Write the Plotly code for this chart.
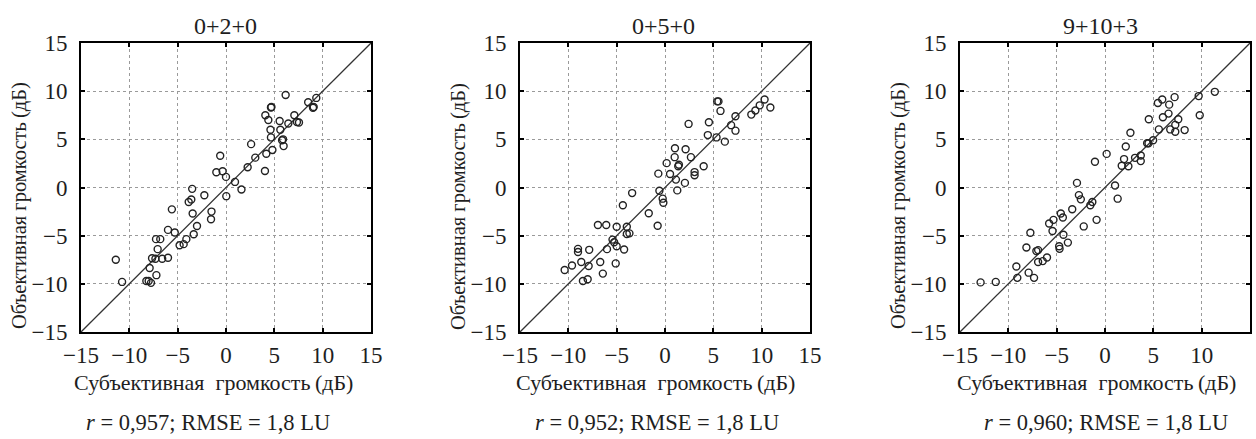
import plotly.graph_objects as go

TITLES = ["0+2+0", "0+5+0", "9+10+3"]
STATS = ["<i>r</i> = 0,957; RMSE = 1,8 LU",
         "<i>r</i> = 0,952; RMSE = 1,8 LU",
         "<i>r</i> = 0,960; RMSE = 1,8 LU"]
X_TITLE = "Субъективная\u00a0 громкость\u2009(дБ)"
Y_TITLE = "Объективная громкость\u2009(дБ)"
TICKS = [-15, -10, -5, 0, 5, 10, 15]
AXIS_RANGE = [-15, 15]

P1_X = [-11.4, -10.75, -8.24, -8.0, -7.76, -7.9, -7.2, -7.65, -7.24, -6.8, -7.07, -7.3, -6.6, -6.0,
        -6.0, -5.3, -5.6, -4.8, -4.38, -4.1, -3.86, -3.59, -3.5, -3.45, -3.34, -3.0, -2.24, -1.5,
        -1.55, -1.0, -0.6, -0.35, 0.0, 0.03, 0.93, 1.6, 2.24, 2.6, 3.03, 4.03, 4.17, 4.07, 4.38,
        4.65, 4.7, 4.6, 4.65, 4.8, 5.55, 5.62, 5.8, 5.9, 5.96, 6.17, 6.45, 7.07, 7.34, 7.55, 8.5,
        9.0, 9.07, 9.34]
P1_Y = [-7.5, -9.8, -9.7, -9.7, -9.9, -8.35, -9.1, -7.35, -5.36, -5.36, -6.4, -7.4, -7.4, -7.3,
        -4.4, -4.67, -2.27, -6.0, -5.88, -5.36, -1.5, -1.24, -0.14, -2.7, -4.85, -4.0, -0.8, -2.5,
        -3.3, 1.58, 3.3, 1.68, 1.1, -0.9, 0.58, -0.2, 2.1, 4.5, 3.1, 1.72, 3.5, 7.5, 7.0, 8.3,
        8.35, 6.0, 5.2, 3.9, 6.9, 6.0, 4.9, 5.0, 4.3, 9.6, 6.65, 7.5, 6.8, 6.75, 8.85, 8.27, 8.35,
        9.3]

P2_X = [-10.38, -9.62, -9.0, -9.0, -8.66, -8.49, -8.0, -7.9, -7.84, -6.94, -6.7, -6.43, -6.08,
        -6.0, -5.43, -5.26, -5.0, -5.0, -5.1, -4.36, -4.23, -3.95, -3.95, -3.68, -3.4, -1.68,
        -0.76, -0.69, -0.58, -0.24, -0.17, 0.17, 0.52, 1.03, 1.0, 1.13, 1.27, 1.37, 1.44, 2.06,
        2.13, 2.44, 2.68, 3.06, 3.06, 4.0, 4.43, 4.54, 5.33, 5.4, 5.53, 5.74, 6.19, 6.84, 7.29,
        7.29, 8.93, 9.35, 9.8, 10.3, 10.9]
P2_Y = [-8.56, -8.1, -6.37, -6.7, -7.74, -9.7, -9.52, -8.15, -6.47, -3.9, -7.74, -8.94, -3.9,
        -6.4, -5.41, -5.68, -4.08, -6.1, -7.88, -1.85, -6.44, -4.08, -4.83, -4.76, -0.58, -2.67,
        -3.97, 1.44, -0.34, -1.16, -1.58, 2.53, 1.4, 4.08, 3.15, 0.82, -0.3, 2.2, 2.36, 0.48,
        3.97, 6.6, 3.15, 1.6, 1.27, 2.2, 5.44, 6.78, 5.2, 8.94, 8.94, 7.95, 4.76, 6.47, 7.4, 5.9,
        7.57, 8.0, 8.53, 9.14, 8.3]

P3_X = [-12.87, -11.3, -9.17, -9.07, -8.13, -7.9, -7.72, -7.34, -7.1, -6.92, -6.92, -6.44, -6.0,
        -5.78, -5.43, -5.33, -4.74, -4.7, -4.57, -4.36, -4.3, -3.84, -3.39, -2.9, -2.7, -2.5,
        -2.2, -1.52, -1.31, -1.04, -0.87, 0.17, 1.04, 1.31, 1.73, 1.97, 2.15, 2.42, 2.63, 3.11,
        3.7, 3.7, 4.36, 4.5, 4.53, 4.98, 5.47, 5.57, 5.92, 5.99, 6.57, 6.64, 6.75, 7.2, 7.27,
        7.27, 7.58, 8.24, 9.69, 9.8, 11.36]
P3_Y = [-9.85, -9.8, -8.2, -9.38, -6.23, -8.84, -4.7, -9.38, -6.6, -6.5, -7.74, -7.64, -7.26,
        -3.74, -4.52, -3.36, -6.1, -6.37, -2.7, -3.12, -4.9, -5.72, -2.26, 0.48, -0.79, -1.23,
        -4.04, -1.85, -1.51, 2.67, -3.36, 3.49, 0.2, -1.16, 2.26, 2.95, 4.25, 2.2, 5.68, 3.08,
        3.32, 2.74, 4.59, 4.59, 7.09, 4.9, 8.77, 6.03, 9.14, 7.29, 7.67, 8.6, 6.03, 9.38, 6.5,
        5.78, 7.09, 5.96, 9.49, 7.5, 9.93]

PANELS = [(P1_X, P1_Y), (P2_X, P2_Y), (P3_X, P3_Y)]

W, H = 1256, 439
X_DOMAINS = [[81 / W, 371 / W], [520 / W, 810 / W], [960 / W, 1250 / W]]
Y_DOMAIN = [1 - 332 / H, 1 - 43 / H]
YTITLE_X = [19, 458, 898]
TITLE_CX = [226, 663, 1100]
XTITLE_CX = [213, 655, 1096]
STATS_CX = [208, 657, 1106]

FONT = "Liberation Serif"
TXT = "#1e1e1e"

fig = go.Figure()
annotations = []
layout_axes = {}
for i, (xs, ys) in enumerate(PANELS):
    n = "" if i == 0 else str(i + 1)
    xa, ya = "x" + n, "y" + n
    fig.add_trace(go.Scatter(x=AXIS_RANGE, y=AXIS_RANGE, mode="lines",
                             line=dict(color="#333333", width=1.3),
                             xaxis=xa, yaxis=ya, showlegend=False, hoverinfo="skip"))
    fig.add_trace(go.Scatter(x=xs, y=ys, mode="markers",
                             marker=dict(symbol="circle-open", size=7, color="#222222",
                                         line=dict(width=1.4, color="#222222")),
                             xaxis=xa, yaxis=ya, showlegend=False))
    common = dict(range=AXIS_RANGE, tickvals=TICKS, showgrid=True, gridcolor="#9a9a9a",
                  griddash="dot", gridwidth=1, zeroline=False, showline=True,
                  linecolor="black", linewidth=2, mirror="ticks", ticks="inside",
                  ticklen=4, tickwidth=1.5, tickcolor="black", automargin=False,
                  tickfont=dict(family=FONT, size=23, color=TXT))
    layout_axes["xaxis" + n] = dict(common, domain=X_DOMAINS[i], anchor=ya, ticklabelstandoff=1)
    layout_axes["yaxis" + n] = dict(common, domain=Y_DOMAIN, anchor=xa, ticklabelstandoff=7)
    annotations.append(dict(text=TITLES[i], x=TITLE_CX[i] / W, y=1 - 26 / H, xref="paper",
                            yref="paper", showarrow=False,
                            font=dict(family=FONT, size=24, color=TXT),
                            xanchor="center", yanchor="middle"))
    annotations.append(dict(text=X_TITLE, x=XTITLE_CX[i] / W, y=1 - 382 / H, xref="paper",
                            yref="paper", showarrow=False,
                            font=dict(family=FONT, size=22, color=TXT),
                            xanchor="center", yanchor="middle"))
    annotations.append(dict(text=Y_TITLE, x=YTITLE_X[i] / W, y=1 - 206 / H, xref="paper",
                            yref="paper", showarrow=False, textangle=-90,
                            font=dict(family=FONT, size=20.5, color=TXT),
                            xanchor="center", yanchor="middle"))
    annotations.append(dict(text=STATS[i], x=STATS_CX[i] / W, y=1 - 422 / H, xref="paper",
                            yref="paper", showarrow=False,
                            font=dict(family=FONT, size=22.5, color=TXT),
                            xanchor="center", yanchor="middle"))

fig.update_layout(width=W, height=H, margin=dict(l=0, r=0, t=0, b=0),
                  paper_bgcolor="white", plot_bgcolor="white",
                  font=dict(family=FONT),
                  annotations=annotations, **layout_axes)
fig.write_html("out.html")
